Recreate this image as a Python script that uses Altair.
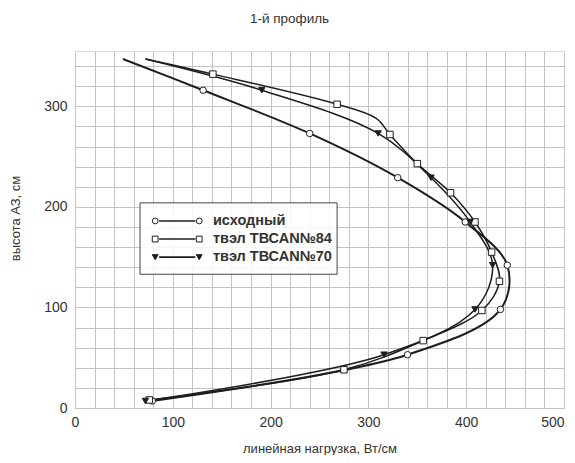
import altair as alt
import pandas as pd

FONT = "Liberation Sans"
INK = "#1e1e1e"
TXT = "#333333"

series_names = ["исходный", "твэл ТВСАN№84", "твэл ТВСАN№70"]

# исходный (open circles)
ish_x = [79, 340, 435, 442, 399, 330, 240, 131]
ish_y = [7, 53, 98, 142, 185, 229, 273, 316]
ish_line_x = [79, 340, 435, 442, 399, 330, 240, 131, 49]
ish_line_y = [7, 53, 98, 142, 185, 229, 273, 316, 347]

# твэл ТВСАN№84 (open squares)
t84_x = [76, 275, 356, 416, 434, 426, 409, 384, 350, 322, 268, 141]
t84_y = [8, 38, 67, 97, 126, 155, 185, 214, 243, 272, 302, 332]
t84_line_x = [76, 275, 356, 416, 434, 426, 409, 384, 350, 322, 308, 268, 141, 72]
t84_line_y = [8, 38, 67, 97, 126, 155, 185, 214, 243, 272, 288, 302, 332, 347]

# твэл ТВСАN№70 (filled down triangles)
t70_x = [72, 316, 409, 427, 404, 364, 310, 191]
t70_y = [7, 53, 98, 142, 185, 229, 273, 316]
t70_line_x = [72, 316, 409, 427, 404, 364, 310, 191, 72]
t70_line_y = [7, 53, 98, 142, 185, 229, 273, 316, 347]

x_ticks = list(range(0, 501, 20))
y_ticks = list(range(0, 355, 20))

xs = alt.Scale(domain=[0, 500], nice=False, zero=False)
ys = alt.Scale(domain=[0, 355], nice=False, zero=False)

x_axis = alt.Axis(values=x_ticks, tickCount=len(x_ticks) + 2,
                  labelExpr="datum.value % 100 == 0 ? datum.label : ''",
                  labelOverlap=False, labelFlush=False,
                  labelAlign={"condition": {"test": "datum.value == 500", "value": "right"},
                              "value": "center"},
                  grid=True, gridColor="#c4c4c4", gridWidth=1, ticks=False, domain=False,
                  labelFont=FONT, labelFontSize=14, labelColor=TXT, labelPadding=7,
                  title="линейная нагрузка, Вт/см", titleFont=FONT, titleFontSize=13,
                  titleFontWeight="normal", titleColor=TXT, titleY=34)
y_axis = alt.Axis(values=y_ticks, tickCount=len(y_ticks) + 2,
                  labelExpr="datum.value % 100 == 0 ? datum.label : ''",
                  labelOverlap=False, labelFlush=False,
                  grid=True, gridColor="#c4c4c4", gridWidth=1, ticks=False, domain=False,
                  labelFont=FONT, labelFontSize=14, labelColor=TXT, labelPadding=8,
                  title="высота АЗ, см", titleFont=FONT, titleFontSize=13,
                  titleFontWeight="normal", titleColor=TXT, titleX=-53, titleY=167)


def series_layers(name, lx, ly, px, py, shape, filled, lw, size):
    ldf = pd.DataFrame({"x": lx, "y": ly, "i": list(range(len(lx))), "s": name})
    pdf = pd.DataFrame({"x": px, "y": py, "s": name})
    line = alt.Chart(ldf).mark_line(color=INK, strokeWidth=lw, interpolate="catmull-rom").encode(
        x=alt.X("x:Q", scale=xs, axis=x_axis),
        y=alt.Y("y:Q", scale=ys, axis=y_axis),
        order="i:Q",
    )
    pts = alt.Chart(pdf).mark_point(shape=shape, filled=True, fill=INK if filled else "white",
                                    stroke=INK, strokeWidth=1, size=size, opacity=1).encode(
        x=alt.X("x:Q", scale=xs, axis=x_axis), y=alt.Y("y:Q", scale=ys, axis=y_axis))
    return line, pts


l1, p1 = series_layers(series_names[0], ish_line_x, ish_line_y, ish_x, ish_y, "circle", False, 2.0, 42)
l2, p2 = series_layers(series_names[1], t84_line_x, t84_line_y, t84_x, t84_y, "square", False, 1.5, 42)
l3, p3 = series_layers(series_names[2], t70_line_x, t70_line_y, t70_x, t70_y, "triangle-down", True, 1.5, 40)

# legend (drawn in data coordinates)
box = alt.Chart(pd.DataFrame({"x": [66.5], "x2": [268], "y": [133], "y2": [204]})).mark_rect(
    fill="white", fillOpacity=0.85, stroke="#444", strokeWidth=1).encode(
    x=alt.X("x:Q", scale=xs, axis=x_axis), x2="x2:Q",
    y=alt.Y("y:Q", scale=ys, axis=y_axis), y2="y2:Q")

leg_y = [186, 168, 150]
leg_df = pd.DataFrame({"s": series_names, "y": leg_y,
                       "a": [86] * 3, "b": [123] * 3, "xt": [141] * 3})
leg_lines = alt.Chart(leg_df).mark_rule(color=INK, strokeWidth=1.6).encode(
    x=alt.X("a:Q", scale=xs, axis=x_axis), x2="b:Q", y=alt.Y("y:Q", scale=ys, axis=y_axis))
leg_shapes = []
for k, (shape, filled) in enumerate([("circle", False), ("square", False), ("triangle-down", True)]):
    d = pd.DataFrame({"x": [82, 127], "y": [leg_y[k]] * 2})
    leg_shapes.append(alt.Chart(d).mark_point(shape=shape, filled=True, fill=INK if filled else "white",
                                              stroke=INK, strokeWidth=1, size=34, opacity=1).encode(
        x=alt.X("x:Q", scale=xs, axis=x_axis), y=alt.Y("y:Q", scale=ys, axis=y_axis)))
leg_text = alt.Chart(leg_df).mark_text(align="left", baseline="middle", font=FONT, fontSize=14.5,
                                       fontWeight="bold", color=TXT).encode(
    x=alt.X("xt:Q", scale=xs, axis=x_axis), y=alt.Y("y:Q", scale=ys, axis=y_axis), text="s:N")

chart = alt.layer(l1, l2, l3, p1, p2, p3, box, leg_lines, *leg_shapes, leg_text).properties(
    width=489, height=357,
    title=alt.TitleParams("1-й профиль", anchor="middle", dx=-30, offset=26, font=FONT,
                          fontSize=13.5, fontWeight="normal", color=TXT),
    autosize=alt.AutoSizeParams(type="none"),
    padding={"left": 67, "top": 43, "right": 3, "bottom": 47},
).configure_view(stroke="#555", strokeWidth=1).configure(background="white")

chart.save("out.html", embed_options={"renderer": "svg", "actions": False})
